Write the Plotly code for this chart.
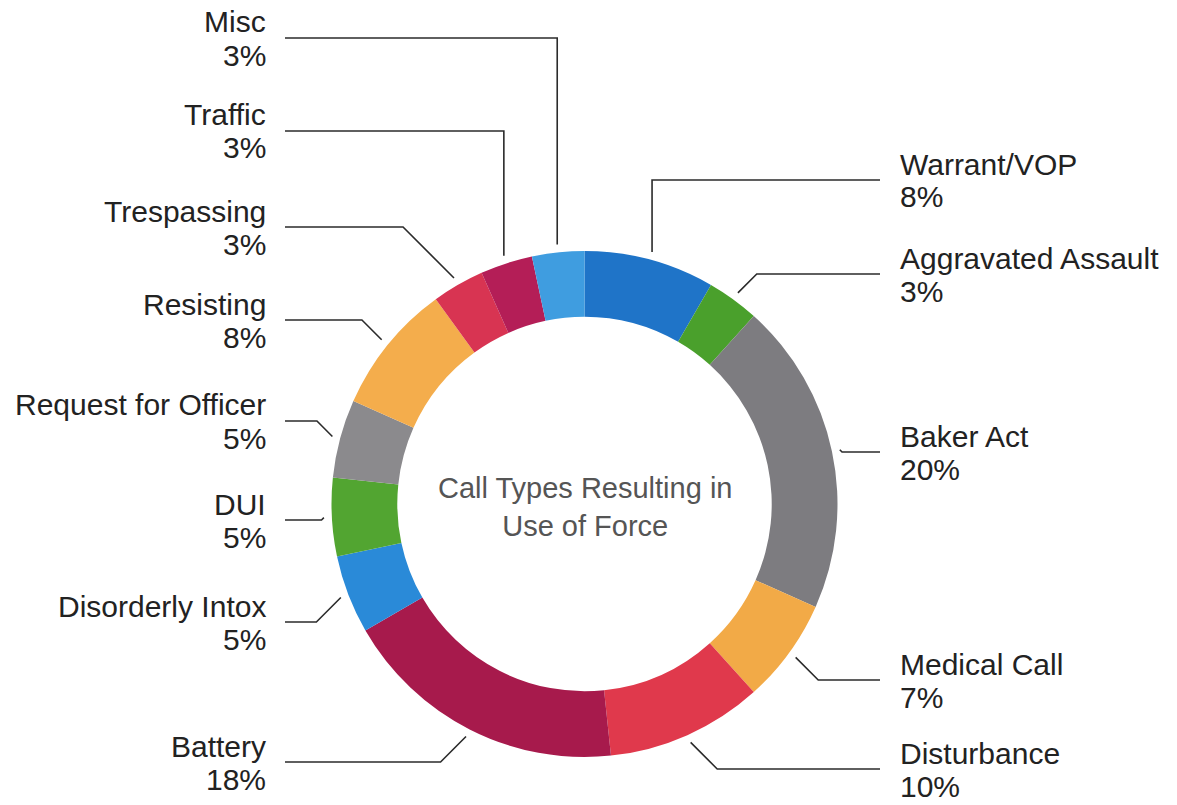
import math
import plotly.graph_objects as go

# ---- data ----
categories = ["Warrant/VOP", "Aggravated Assault", "Baker Act", "Medical Call",
              "Disturbance", "Battery", "Disorderly Intox", "DUI",
              "Request for Officer", "Resisting", "Trespassing", "Traffic", "Misc"]
counts = [5, 2, 12, 4, 6, 11, 3, 3, 3, 5, 2, 2, 2]
colors = ["#1f74c8", "#4aa02c", "#7d7c80", "#f2aa47", "#e0394c", "#a71a4c",
          "#2a8ad8", "#52a531", "#8b8a8d", "#f4ad4c", "#d83452", "#b41e57", "#3f9de0"]
center_title = "Call Types Resulting in<br>Use of Force"

# ---- layout (pixels from top-left of the 1177x805 page) ----
W, H = 1177, 805
CX, CY, R = 584.5, 504.0, 253.0
HOLE = 0.74
# vertical level of each label's leader line
label_line_y = [180, 274, 452, 680, 769, 762, 622, 520, 421, 320, 227, 131, 38]
LEFT_TEXT_X, RIGHT_TEXT_X = 268, 898
LEFT_LINE_X, RIGHT_LINE_X = 285, 880
GAP = 8
FONT = "Liberation Sans, Arial, Helvetica, sans-serif"


def px(x):
    return x / W


def py(y):
    return 1 - y / H


fig = go.Figure(go.Pie(
    labels=categories,
    values=counts,
    sort=False,
    direction="clockwise",
    rotation=0,
    hole=HOLE,
    marker=dict(colors=colors, line=dict(width=0)),
    textinfo="none",
    hoverinfo="label+percent",
    showlegend=False,
    domain=dict(x=[px(CX - R), px(CX + R)], y=[py(CY + R), py(CY - R)]),
))

total = sum(counts)
cum = 0
shapes = []
annotations = []
for name, c, ly in zip(categories, counts, label_line_y):
    mid = (cum + c / 2) / total * 2 * math.pi
    cum += c
    s, co = math.sin(mid), math.cos(mid)
    p_x = CX + (R + GAP) * s
    p_y = CY - (R + GAP) * co
    side = 1 if s > 0 else -1
    dy = ly - p_y
    if abs(dy) > 60:
        ex = p_x
    else:
        ex = p_x + side * abs(dy)
    end_x = RIGHT_LINE_X if side > 0 else LEFT_LINE_X
    path = f"M {px(p_x)},{py(p_y)} L {px(ex)},{py(ly)} L {px(end_x)},{py(ly)}"
    shapes.append(dict(type="path", xref="paper", yref="paper", path=path,
                       line=dict(color="#2b2b2b", width=1.6)))
    pct = f"{round(c / total * 100)}%"
    tx = RIGHT_TEXT_X if side > 0 else LEFT_TEXT_X
    anchor = "left" if side > 0 else "right"
    for txt, yy in ((name, ly - 16), (pct, ly + 17)):
        annotations.append(dict(
            x=px(tx), y=py(yy), xref="paper", yref="paper",
            text=txt, showarrow=False, xanchor=anchor, yanchor="middle",
            align=anchor, font=dict(family=FONT, size=30, color="#222222")))

annotations.append(dict(
    x=px(CX), y=py(507), xref="paper", yref="paper", text=center_title,
    showarrow=False, xanchor="center", yanchor="middle", align="center",
    font=dict(family=FONT, size=29, color="#555555")))

fig.update_layout(
    width=W, height=H, autosize=False,
    margin=dict(l=0, r=0, t=0, b=0),
    paper_bgcolor="white", plot_bgcolor="white",
    shapes=shapes, annotations=annotations,
)

fig.write_html("out.html",
               config={"displayModeBar": False},
               post_script="document.body.style.margin='0';document.body.style.padding='0';")
